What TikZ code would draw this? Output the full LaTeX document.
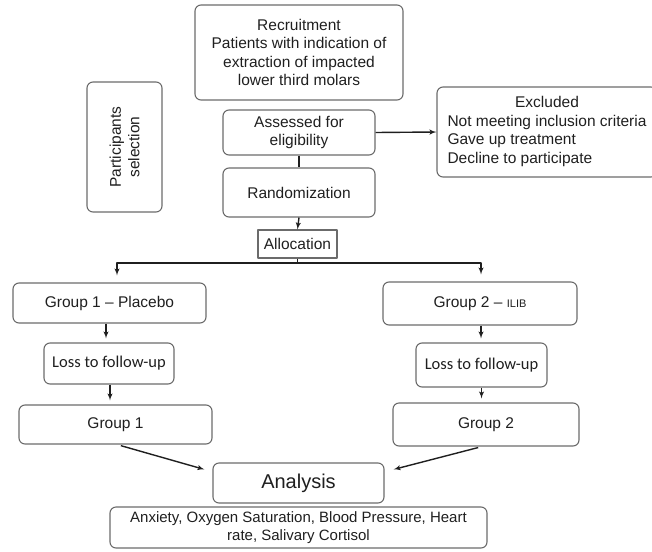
\documentclass[tikz,border=0pt]{standalone}
\usepackage{fontspec}
\setmainfont{Liberation Sans}
\newfontfamily\calibrifont{Carlito}
\usetikzlibrary{arrows,shapes,positioning}

\definecolor{boxline}{rgb}{0.42,0.42,0.42}
\definecolor{inkcol}{rgb}{0.12,0.12,0.12}

\tikzset{
  flowbox/.style={draw=boxline,line width=1.1pt,rounded corners=6pt,align=center,
    inner sep=0pt,text=inkcol,font=\fontsize{15.5}{18.5}\selectfont},
  plainbox/.style={draw=boxline,line width=1.1pt,align=center,inner sep=0pt,
    text=inkcol,font=\fontsize{15.5}{18.5}\selectfont},
  flowedge/.style={line width=1.4pt,inkcol},
}

\begin{document}
\begin{tikzpicture}[>=latex',line join=bevel,x=1pt,y=-1pt]

\useasboundingbox (0,0) rectangle (652,551);

% Node: recr
\node[flowbox,minimum width=208pt,minimum height=95pt] (recr) at (299,52.5)
  {Recruitment\\Patients with indication of\\extraction of impacted\\lower third molars};

% Node: part
\node[flowbox,rotate=90,minimum width=130pt,minimum height=75pt] (part) at (124.5,147)
  {Participants\\selection};

% Node: assess
\node[flowbox,minimum width=152pt,minimum height=45pt] (assess) at (299,132.5)
  {Assessed for\\eligibility};

% Node: rand
\node[flowbox,minimum width=152pt,minimum height=49pt] (rand) at (299,192.5)
  {Randomization};

% Node: alloc
\node[plainbox,minimum width=79pt,minimum height=28pt] (alloc) at (297.5,244)
  {Allocation};

% Node: excl
\node[flowbox,minimum width=220pt,minimum height=90pt] (excl) at (547,132)
  {\begin{tabular}{@{}l@{}}\multicolumn{1}{@{}c@{}}{Excluded}\\
   Not meeting inclusion criteria\\Gave up treatment\\Decline to participate\end{tabular}};

% Node: grpa
\node[flowbox,minimum width=193pt,minimum height=40pt] (grpa) at (109.5,303)
  {Group 1 -- Placebo};

% Node: lossa
\node[flowbox,minimum width=130pt,minimum height=41pt,font=\calibrifont\fontsize{16.5}{19}\selectfont] (lossa) at (109,363.5)
  {Loss to follow-up};

% Node: enda
\node[flowbox,minimum width=193pt,minimum height=39pt] (enda) at (115.5,424.5)
  {Group 1};

% Node: grpb
\node[flowbox,minimum width=194pt,minimum height=43pt] (grpb) at (480,303.5)
  {Group 2 -- {\fontsize{11}{13}\selectfont ILIB}};

% Node: lossb
\node[flowbox,minimum width=131pt,minimum height=44pt,font=\calibrifont\fontsize{16.5}{19}\selectfont] (lossb) at (481.5,365)
  {Loss to follow-up};

% Node: endb
\node[flowbox,minimum width=186pt,minimum height=43pt] (endb) at (486,424.5)
  {Group 2};

% Node: anal
\node[flowbox,minimum width=171pt,minimum height=40pt,font=\fontsize{20}{24}\selectfont] (anal) at (298.5,483)
  {Analysis};

% Node: outc
\node[flowbox,minimum width=377pt,minimum height=41pt,font=\fontsize{15}{17.5}\selectfont] (outc) at (298.5,527.5)
  {Anxiety, Oxygen Saturation, Blood Pressure, Heart\\rate, Salivary Cortisol};

% Split point under allocation
\coordinate (split) at (297.5,263);

% Edge: assess -> excl
\draw [flowedge,->] (assess.east) -- (excl.west);

% Edge: assess -> rand
\draw [flowedge] (assess.south) -- (rand.north);

% Edge: rand -> alloc
\draw [flowedge,->] (rand.south) -- (alloc.north);

% Edge: alloc -> grpa, grpb
\draw [flowedge] (alloc.south) -- (split);
\draw [flowedge,->,shorten >=7pt] (split) -| ([xshift=7.5pt]grpa.north);
\draw [flowedge,->,shorten >=7pt] (split) -| ([xshift=1pt]grpb.north);

% Edge: grpa -> lossa -> enda
\draw [flowedge,->,shorten >=4pt] ([xshift=-3.5pt]grpa.south) -- ([xshift=-3.5pt]grpa.south |- lossa.north);
\draw [flowedge,->,shorten >=4pt] ([xshift=1pt]lossa.south) -- ([xshift=1pt]lossa.south |- enda.north);

% Edge: grpb -> lossb -> endb
\draw [flowedge,->,shorten >=4pt] ([xshift=1pt]grpb.south) -- ([xshift=1pt]grpb.south |- lossb.north);
\draw [flowedge,->,shorten >=4pt] (lossb.south) -- (lossb.south |- endb.north);

% Edge: enda -> anal
\draw [flowedge,->,shorten <=4pt] ([xshift=1.5pt]enda.south) -- ([xshift=-8pt,yshift=-7pt]anal.north west);

% Edge: endb -> anal
\draw [flowedge,->,shorten <=4pt] ([xshift=-4pt]endb.south) -- ([xshift=9pt,yshift=-7pt]anal.north east);

\end{tikzpicture}
\end{document}
